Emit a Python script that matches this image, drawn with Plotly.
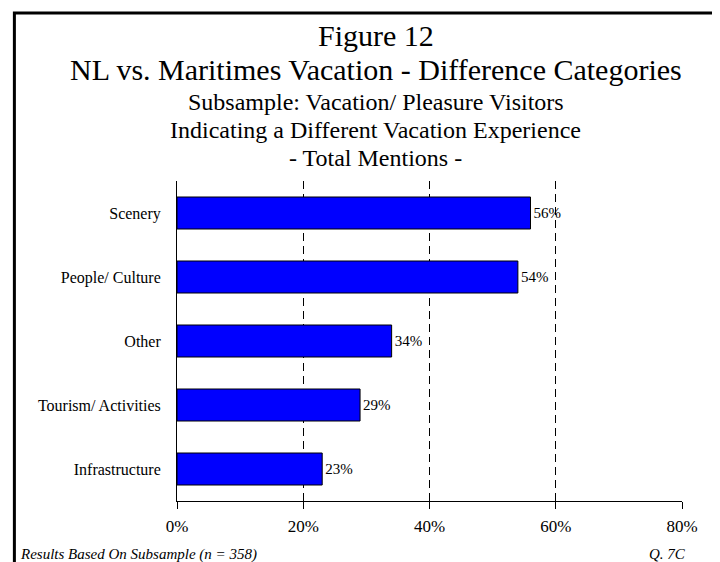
import plotly.graph_objects as go

# data
categories = ['Scenery', 'People/ Culture', 'Other', 'Tourism/ Activities', 'Infrastructure']
mentions = [56, 54, 34, 29, 23]
x_ticks = [0, 20, 40, 60, 80]
x_tick_labels = ['0%', '20%', '40%', '60%', '80%']

serif = 'Liberation Serif, Times New Roman, serif'

fig = go.Figure()

fig.add_trace(
    go.Bar(
        x=mentions,
        y=categories,
        orientation='h',
        marker=dict(color='#0000FF', line=dict(color='black', width=1)),
        text=[f'{v}%' for v in mentions],
        textposition='outside',
        textfont=dict(family=serif, size=15, color='black'),
        cliponaxis=False,
        hoverinfo='skip',
    )
)

fig.update_xaxes(
    range=[0, 80],
    tickvals=x_ticks,
    ticktext=x_tick_labels,
    showgrid=True,
    gridcolor='black',
    gridwidth=1,
    griddash='8px,5px',
    zeroline=False,
    showline=True,
    linecolor='black',
    linewidth=1,
    ticks='outside',
    ticklen=7,
    tickcolor='black',
    ticklabelstandoff=3,
    tickfont=dict(family=serif, size=17, color='black'),
)
fig.update_yaxes(
    categoryorder='array',
    categoryarray=categories[::-1],
    showline=True,
    linecolor='black',
    linewidth=1,
    ticks='',
    showgrid=False,
    ticklabelstandoff=12,
    tickfont=dict(family=serif, size=16, color='black'),
)

#   TITLE LINES AND FOOTER
title_lines = [
    ('Figure 12', 30, 1.456),
    ('NL vs. Maritimes Vacation - Difference Categories', 30, 1.347),
    ('Subsample: Vacation/ Pleasure Visitors', 24, 1.247),
    ('Indicating a Different Vacation Experience', 24, 1.158),
    ('- Total Mentions -', 24, 1.072),
]
for txt, size, ypos in title_lines:
    fig.add_annotation(
        text=txt, xref='paper', yref='paper', x=0.394, y=ypos,
        showarrow=False, xanchor='center', yanchor='middle',
        font=dict(family=serif, size=size, color='black'),
    )

fig.add_annotation(
    text='<i>Results Based On Subsample (n = 358)</i>',
    xref='paper', yref='paper', x=-0.315, y=-0.166,
    showarrow=False, xanchor='left', yanchor='middle',
    font=dict(family=serif, size=15, color='black'),
)
fig.add_annotation(
    text='<i>Q. 7C</i>',
    xref='paper', yref='paper', x=1.0128, y=-0.166,
    showarrow=False, xanchor='right', yanchor='middle',
    font=dict(family=serif, size=15, color='black'),
)

# thick frame round the chart (runs off the right and bottom edge)
fig.add_shape(
    type='rect', xref='paper', yref='paper',
    x0=-0.322, x1=1.2, y0=-0.4, y1=1.525,
    line=dict(color='black', width=3),
)

# page body has an 8px margin, so the figure is 8px smaller than the window
fig.update_layout(
    width=712,
    height=554,
    margin=dict(l=168.5, r=37.5, t=173, b=61),
    bargap=0.5,
    showlegend=False,
    plot_bgcolor='white',
    paper_bgcolor='white',
)

fig.write_html('out.html')
